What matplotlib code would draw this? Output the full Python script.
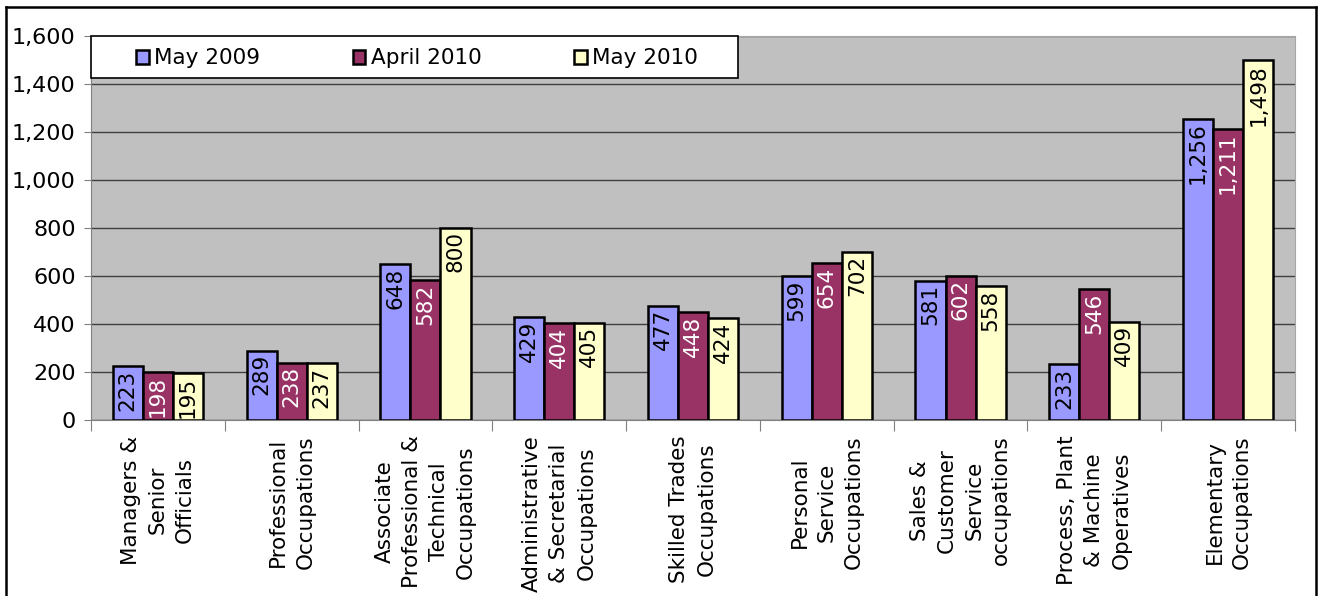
import matplotlib.pyplot as plt
import matplotlib.patches as mp
import matplotlib.lines as ml
import numpy as np
from matplotlib.ticker import FuncFormatter

plt.rcParams['font.family'] = ['DejaVu Sans']

categories = ['Managers &\nSenior\nOfficials',
              'Professional\nOccupations',
              'Associate\nProfessional &\nTechnical\nOccupations',
              'Administrative\n& Secretarial\nOccupations',
              'Skilled Trades\nOccupations',
              'Personal\nService\nOccupations',
              'Sales &\nCustomer\nService\noccupations',
              'Process, Plant\n& Machine\nOperatives',
              'Elementary\nOccupations']
series = ['May 2009', 'April 2010', 'May 2010']
may2009 = [223, 289, 648, 429, 477, 599, 581, 233, 1256]
apr2010 = [198, 238, 582, 404, 448, 654, 602, 546, 1211]
may2010 = [195, 237, 800, 405, 424, 702, 558, 409, 1498]

colors = ['#9999FF', '#993366', '#FFFFCC']
txtcolors = ['black', 'white', 'black']
fs = 15.5

fig = plt.figure(figsize=(13.21, 5.96), dpi=100)
ax = fig.add_axes([91/1321., 1 - 420/596., (1295 - 91)/1321., (420 - 36)/596.])
ax.set_facecolor('#C0C0C0')

x = np.arange(len(categories))
w = 0.225
data = [may2009, apr2010, may2010]
for k, vals in enumerate(data):
    xs = x + (k - 1)*w
    ax.bar(xs, vals, width=w, color=colors[k], edgecolor='black', linewidth=1.8, zorder=3, label=series[k])
    for xx, v in zip(xs, vals):
        ax.annotate('{:,}'.format(v), (xx, v), xytext=(0, -2.5), textcoords='offset points',
                    rotation=90, ha='center', va='top', fontsize=fs, color=txtcolors[k], zorder=4)

ax.set_xlim(-0.5, len(categories) - 0.5)
ax.set_ylim(0, 1600)
ax.set_yticks(np.arange(0, 1601, 200))
ax.yaxis.set_major_formatter(FuncFormatter(lambda v, p: '{:,}'.format(int(v))))
ax.yaxis.grid(True, color='#404040', linewidth=1, zorder=1)
ax.set_axisbelow(True)
ax.tick_params(axis='y', labelsize=16, length=5, color='#808080', direction='out', pad=6)

ax.set_xticks(np.arange(len(categories) + 1) - 0.5)
ax.set_xticklabels([])
ax.set_xticks(x, minor=True)
ax.set_xticklabels(categories, minor=True, rotation=90, ha='center', va='top', multialignment='center',
                   fontsize=fs, linespacing=1.45)
ax.tick_params(axis='x', which='minor', length=0, pad=11)
ax.tick_params(axis='x', which='major', length=8, color='#808080', direction='out')

for s in ['left', 'bottom']:
    ax.spines[s].set_color('#808080')
for s in ['top', 'right']:
    ax.spines[s].set_color('#A6A6A6')

# legend band
ax.add_patch(mp.Rectangle((0, 0.89), 0.537, 0.11, transform=ax.transAxes, facecolor='white',
                          edgecolor='black', linewidth=1.2, zorder=5, clip_on=False))
leg = ax.legend(loc='center left', bbox_to_anchor=(0.021, 0.942), ncol=3, frameon=False, fontsize=fs,
                handlelength=0.6, handleheight=0.6, handletextpad=0.25, columnspacing=4.3)
leg.set_zorder(6)

# outer frame
for xs_, ys_ in [([6, 6], [596, 7]), ([6, 1316], [7, 7]), ([1316, 1316], [7, 596])]:
    fig.add_artist(ml.Line2D([v/1321. for v in xs_], [1 - v/596. for v in ys_], color='black', linewidth=1.8))

fig.savefig('out.png', dpi=100)
